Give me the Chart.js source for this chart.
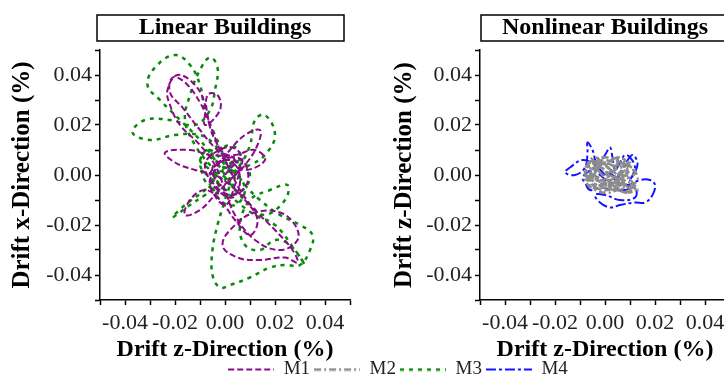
<!DOCTYPE html>
<html><head><meta charset="utf-8">
<script src="https://cdn.jsdelivr.net/npm/chart.js@4.4.0/dist/chart.umd.min.js"></script>
<style>
html,body{margin:0;padding:0;background:#fff;overflow:hidden;width:724px;height:383px;position:relative}
canvas{position:absolute}
</style></head><body>
<canvas id="left" width="362" height="365" style="left:0;top:0"></canvas>
<canvas id="right" width="380" height="365" style="left:362px;top:0"></canvas>
<canvas id="leg" width="796" height="100" style="left:0;top:356px"></canvas>
<script>
// ---- data (drift z, drift x) in % ----
const seriesNames = ['M1', 'M2', 'M3', 'M4'];
const tickValues = [-0.04, -0.02, 0, 0.02, 0.04];
const tickLabels = ['-0.04', '-0.02', '0.00', '0.02', '0.04'];

const M1 = [[0,0],[0.004,0.006],[-0.003,0.01],[-0.01,0.018],[-0.017,0.027],[-0.022,0.033],[-0.021,0.039],[-0.016,0.037],[-0.01,0.029],[-0.006,0.02],[-0.002,0.01],[0.002,0.002],[0.006,-0.006],[0.012,-0.014],[0.02,-0.022],[0.027,-0.03],[0.029,-0.035],[0.024,-0.033],[0.014,-0.034],[0.005,-0.033],[-0.001,-0.028],[0.004,-0.02],[0.012,-0.015],[0.022,-0.015],[0.028,-0.02],[0.029,-0.026],[0.022,-0.03],[0.012,-0.026],[0.004,-0.016],[0,-0.006],[-0.004,0.004],[-0.01,0.012],[-0.018,0.02],[-0.022,0.028],[-0.023,0.034],[-0.019,0.04],[-0.012,0.036],[-0.008,0.028],[-0.008,0.02],[-0.002,0.026],[-0.003,0.032],[-0.007,0.032],[-0.007,0.024],[-0.004,0.014],[0.002,0.006],[0.008,0.002],[0.016,0.006],[0.012,0.01],[0.004,0.008],[-0.006,0.008],[-0.014,0.01],[-0.024,0.009],[-0.02,0.005],[-0.012,0.002],[-0.004,0],[0.002,-0.004],[0.008,-0.01],[0.013,-0.018],[0.01,-0.024],[0.004,-0.018],[-0.002,-0.01],[-0.008,-0.006],[-0.014,-0.01],[-0.016,-0.016],[-0.01,-0.014],[-0.004,-0.008],[0.002,-0.002],[0.008,0.004],[0.013,0.012],[0.014,0.018],[0.008,0.016],[0.002,0.01],[-0.004,0.002],[-0.006,-0.004],[0,-0.012],[0.004,-0.004],[0.006,0.004],[0,0.006],[-0.005,0.003],[-0.002,-0.004],[0.003,-0.001],[0.007,0.006],[0.003,0.011],[-0.004,0.009],[-0.008,0.004],[-0.005,-0.003],[0.002,-0.008],[0.008,-0.005],[0.009,0.002],[0.005,0.007],[-0.002,0.005],[-0.006,0],[-0.003,-0.006],[0.003,-0.009],[0.006,-0.003],[0.004,0.004],[-0.001,0.002]];

const M3 = [[0,0],[-0.004,0.006],[-0.01,0.014],[-0.018,0.022],[-0.026,0.03],[-0.031,0.036],[-0.028,0.043],[-0.02,0.048],[-0.014,0.044],[-0.01,0.036],[-0.008,0.026],[-0.004,0.016],[0,0.008],[0.004,0.002],[0.008,-0.004],[0.014,-0.01],[0.022,-0.016],[0.03,-0.02],[0.035,-0.024],[0.034,-0.03],[0.03,-0.036],[0.024,-0.036],[0.018,-0.037],[0.01,-0.041],[0.002,-0.044],[-0.002,-0.045],[-0.005,-0.04],[-0.005,-0.03],[-0.003,-0.02],[0,-0.01],[0.002,-0.002],[0,0.006],[-0.004,0.012],[-0.01,0.016],[-0.02,0.016],[-0.03,0.014],[-0.037,0.017],[-0.032,0.022],[-0.022,0.022],[-0.012,0.02],[-0.006,0.026],[-0.004,0.034],[-0.003,0.043],[-0.006,0.047],[-0.01,0.042],[-0.014,0.032],[-0.016,0.022],[-0.012,0.012],[-0.006,0.004],[0,-0.002],[0.006,0.004],[0.01,0.012],[0.012,0.022],[0.016,0.024],[0.02,0.016],[0.016,0.008],[0.01,0.004],[0.004,0.002],[-0.002,-0.004],[-0.008,-0.008],[-0.014,-0.012],[-0.021,-0.017],[-0.016,-0.012],[-0.008,-0.006],[-0.002,0],[0.004,-0.006],[0.01,-0.012],[0.016,-0.016],[0.024,-0.01],[0.025,-0.004],[0.018,-0.006],[0.01,-0.01],[0.006,-0.02],[0.008,-0.028],[0.014,-0.03],[0.02,-0.026],[0.026,-0.028],[0.032,-0.036],[0.028,-0.03],[0.02,-0.02],[0.012,-0.016],[0.004,-0.01],[-0.002,-0.004],[-0.006,0.002],[-0.01,0.006],[-0.006,0.01],[0,0.004],[0.004,-0.002],[0,-0.006],[-0.004,0],[0.002,0.003],[0.006,0.008],[0.002,0.012],[-0.004,0.008],[-0.009,0.002],[-0.006,-0.005],[0,-0.008],[0.007,-0.006],[0.01,0],[0.006,0.006],[0,0.003],[-0.005,-0.002],[-0.002,-0.01],[0.004,-0.012],[0.008,-0.006],[0.004,0.001],[-0.002,0.004],[-0.007,0.01],[-0.01,0.004],[-0.004,-0.003]];

const M2 = [[0,0],[0.004,0.003],[-0.003,0.005],[-0.006,0.002],[-0.002,-0.003],[0.005,-0.004],[0.009,0.001],[0.006,0.005],[0.001,0.007],[-0.005,0.006],[-0.008,0.002],[-0.006,-0.003],[-0.001,-0.006],[0.004,-0.005],[0.01,-0.003],[0.012,-0.006],[0.008,-0.007],[0.003,-0.004],[-0.002,0.001],[-0.004,0.004],[0.002,0.004],[0.007,0.003],[0.01,0.005],[0.007,0.001],[0.002,-0.002],[-0.003,-0.001],[-0.007,0.004],[-0.004,0.007],[0.001,0.003],[0.005,0],[0.009,-0.004],[0.013,-0.002],[0.011,0.002],[0.006,-0.002],[0,-0.005],[-0.005,-0.005],[-0.007,-0.001],[-0.003,0.003],[0.003,0.006],[0.008,0.006],[0.004,0.002],[-0.001,-0.002],[-0.006,0],[-0.002,0.005],[0.003,0.001],[0.006,-0.005],[0.01,-0.007],[0.005,-0.006],[0,-0.003],[-0.004,0.001],[0,0.002],[0.003,-0.006],[0.008,-0.002],[0.012,0.001],[0.009,0.004],[0.004,0.005],[-0.002,0.006],[-0.007,0.003],[-0.008,-0.002],[-0.004,-0.006],[0.002,-0.007],[0.007,-0.005],[0.011,-0.005],[0.013,-0.006],[0.009,-0.001],[0.004,0.001],[-0.001,0.004],[-0.005,0.002],[-0.003,-0.002],[0.002,-0.004],[0.006,0.001],[0.01,0.003],[0.006,0.007],[0,0.005],[-0.006,0.005],[-0.007,0],[-0.003,-0.004],[0.003,-0.003],[0.008,-0.004],[0.011,-0.007],[0.007,-0.003],[0.002,0],[-0.002,0.003],[-0.005,-0.002],[0,-0.005],[0.005,-0.002],[0.009,0.002],[0.005,0.004],[0,0.001]];

const M4 = [[0,0],[-0.004,0.004],[-0.009,0.006],[-0.014,0.003],[-0.016,0.001],[-0.012,0],[-0.008,0.003],[-0.007,0.009],[-0.007,0.013],[-0.005,0.01],[-0.003,0.004],[0,0.008],[0.002,0.011],[0.003,0.007],[0.004,0.002],[0.006,0.005],[0.008,0.008],[0.01,0.007],[0.012,0.003],[0.01,-0.002],[0.013,0.004],[0.011,0.008],[0.008,0.004],[0.005,-0.002],[0.009,-0.004],[0.014,-0.002],[0.018,-0.002],[0.02,-0.004],[0.019,-0.008],[0.016,-0.011],[0.012,-0.011],[0.006,-0.012],[0.002,-0.013],[-0.002,-0.011],[-0.004,-0.008],[0,-0.008],[0.006,-0.01],[0.012,-0.009],[0.012,-0.005],[0.008,-0.006],[0.003,-0.006],[-0.002,-0.005],[-0.006,-0.006],[-0.008,-0.003],[-0.009,-0.001],[-0.005,0.002],[-0.002,0],[0.002,-0.003],[0.004,-0.001],[0.001,0.001]];

// ---- styles ----
const SERIF = "'Liberation Serif', 'Times New Roman', serif";
const STYLE = {
  M1: {color: '#8a0a8a', dash: [6, 3], width: 2},
  M2: {color: '#8c8c8c', dash: [7, 3, 2, 3], width: 2.5},
  M3: {color: '#0a8a0a', dash: [4, 5], width: 2.5},
  M4: {color: '#1414ff', dash: [10, 3, 3, 3], width: 2}
};

const toPts = arr => arr.map(p => ({x: p[0], y: p[1]}));
function tickLabel(v) {
  for (let i = 0; i < tickValues.length; i++) if (Math.abs(v - tickValues[i]) < 1e-7) return tickLabels[i];
  return '';
}
function ds(name, arr) {
  const s = STYLE[name];
  return {label: name, data: toPts(arr), showLine: true, borderColor: s.color, backgroundColor: s.color,
    borderWidth: s.width, borderDash: s.dash, pointRadius: 0, pointHoverRadius: 0, tension: 0.4, fill: false};
}
function axis(title, titlePad, isX, fitSize, titleSize) {
  return {
    type: 'linear', min: -0.05, max: 0.05,
    ticks: {stepSize: 0.01, autoSkip: false, maxRotation: 0, minRotation: 0, padding: isX ? 5 : 3, color: '#222',
      font: {family: SERIF, size: 22}, callback: v => tickLabel(v)},
    grid: {drawOnChartArea: false, drawTicks: true, tickLength: 5, tickColor: '#000', tickWidth: 1.5},
    border: {display: true, color: '#000', width: 1.5},
    title: {display: true, text: title, color: '#000', font: {family: SERIF, size: titleSize, weight: 'bold', lineHeight: 1.2}, padding: titlePad},
    afterFit: s => { if (isX) s.height = fitSize; else s.width = fitSize; }
  };
}
const titleBox = {
  id: 'titleBox',
  afterDraw(chart, args, opts) {
    const {ctx, chartArea} = chart;
    ctx.save();
    ctx.strokeStyle = '#000';
    ctx.lineWidth = 1.5;
    ctx.strokeRect(chartArea.left + opts.dl, opts.top, chartArea.right - chartArea.left + opts.dw, opts.h);
    ctx.restore();
  }
};
function panel(id, title, datasets, yTitle, yPad, yWidth, boxOpts) {
  return new Chart(document.getElementById(id), {
    type: 'scatter',
    data: {datasets},
    options: {
      responsive: false, animation: false, events: [],
      layout: {padding: {left: 0, right: 12, top: 0, bottom: 0}},
      scales: {
        x: axis('Drift z-Direction (%)', {top: 0, bottom: 0.6}, true, 65, 24),
        y: axis(yTitle, {top: yPad, bottom: 0}, false, yWidth, 25)
      },
      plugins: {
        legend: {display: false},
        tooltip: {enabled: false},
        title: {display: true, text: title, color: '#000', fullSize: false,
          font: {family: SERIF, size: 24, weight: 'bold', lineHeight: 1.2}, padding: {top: 13.6, bottom: 7.6}},
        titleBox: boxOpts
      }
    },
    plugins: [titleBox]
  });
}

panel('left', 'Linear Buildings', [ds('M1', M1), ds('M3', M3)], 'Drift x-Direction (%)', 8, 100, {dl: -3, dw: -3, top: 15, h: 26});
panel('right', 'Nonlinear Buildings', [ds('M2', M2), ds('M4', M4)], 'Drift z-Direction (%)', 28, 118, {dl: 1, dw: 20, top: 15, h: 26});

// ---- shared legend ----
function sample(name) {
  const s = STYLE[name];
  const c = document.createElement('canvas');
  c.width = 46; c.height = 4;
  const g = c.getContext('2d');
  g.strokeStyle = s.color; g.lineWidth = s.width; g.setLineDash(s.dash);
  g.beginPath(); g.moveTo(0, 2); g.lineTo(46, 2); g.stroke();
  return c;
}
new Chart(document.getElementById('leg'), {
  type: 'scatter',
  data: {datasets: seriesNames.map(n => ({label: n, data: [], borderColor: STYLE[n].color}))},
  options: {
    responsive: false, animation: false, events: [],
    layout: {padding: 0},
    scales: {x: {display: false}, y: {display: false}},
    plugins: {
      tooltip: {enabled: false},
      legend: {display: true, position: 'top',
        labels: {usePointStyle: true, pointStyleWidth: 46, padding: 4, color: '#222',
          font: {family: SERIF, size: 19},
          generateLabels: chart => seriesNames.map((n, i) => ({text: n, pointStyle: sample(n),
            fillStyle: 'rgba(0,0,0,0)', strokeStyle: 'rgba(0,0,0,0)', lineWidth: 0, hidden: false, datasetIndex: i, fontColor: '#222'}))
        }}
    }
  }
});
</script></body></html>
